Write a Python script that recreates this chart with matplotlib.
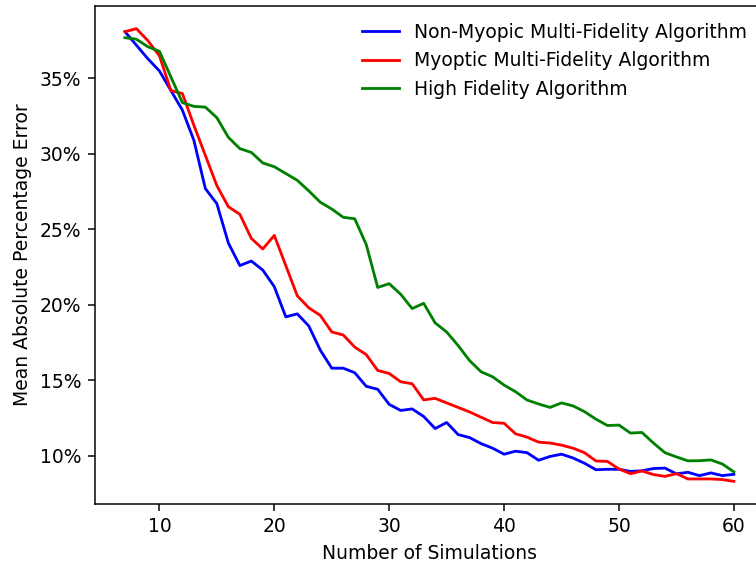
import matplotlib
matplotlib.use("Agg")
import matplotlib.pyplot as plt
from matplotlib.ticker import PercentFormatter

# number of simulations
sims = list(range(7, 61))

# mean absolute percentage error (in %)
non_myopic = [38.1, 37.2, 36.3, 35.5, 34.2, 32.9, 30.9, 27.7, 26.7, 24.1,
              22.6, 22.9, 22.3, 21.2, 19.2, 19.4, 18.6, 17.0, 15.8, 15.8,
              15.5, 14.6, 14.4, 13.4, 13.0, 13.1, 12.6, 11.8, 12.2, 11.4,
              11.2, 10.8, 10.5, 10.1, 10.3, 10.2, 9.7, 9.95, 10.1, 9.85,
              9.5, 9.07, 9.1, 9.1, 8.96, 9.0, 9.15, 9.18, 8.8, 8.9,
              8.68, 8.86, 8.68, 8.77]
myopic = [38.1, 38.3, 37.5, 36.5, 34.2, 34.0, 31.9, 29.9, 27.9, 26.5,
          26.0, 24.4, 23.7, 24.6, 22.6, 20.6, 19.8, 19.3, 18.2, 18.0,
          17.2, 16.7, 15.65, 15.45, 14.9, 14.77, 13.7, 13.8, 13.5, 13.2,
          12.9, 12.55, 12.2, 12.15, 11.45, 11.23, 10.9, 10.84, 10.7, 10.5,
          10.2, 9.65, 9.62, 9.12, 8.81, 8.99, 8.75, 8.63, 8.81, 8.46,
          8.46, 8.46, 8.42, 8.3]
high_fidelity = [37.7, 37.6, 37.1, 36.8, 35.1, 33.4, 33.15, 33.1, 32.4, 31.1,
                 30.35, 30.1, 29.4, 29.15, 28.7, 28.25, 27.55, 26.8, 26.35, 25.8,
                 25.7, 24.0, 21.15, 21.4, 20.7, 19.75, 20.1, 18.8, 18.2, 17.3,
                 16.3, 15.56, 15.23, 14.68, 14.24, 13.69, 13.43, 13.2, 13.5, 13.3,
                 12.92, 12.42, 12.0, 12.03, 11.5, 11.54, 10.84, 10.2, 9.92, 9.66,
                 9.67, 9.72, 9.45, 8.93]

dpi = 135
fig = plt.figure(figsize=(756 / dpi, 563 / dpi), dpi=dpi)
# the original is cut off on the right, so the axes run past the edge
ax = fig.add_axes([0.125, 0.1048, 0.886, 0.8845])

ax.plot(sims, non_myopic, color='blue', label='Non-Myopic Multi-Fidelity Algorithm')
ax.plot(sims, myopic, color='red', label='Myoptic Multi-Fidelity Algorithm')
ax.plot(sims, high_fidelity, color='green', label='High Fidelity Algorithm')

ax.yaxis.set_major_formatter(PercentFormatter(xmax=100, decimals=0))
ax.set_xlabel('Number of Simulations')
ax.set_ylabel('Mean Absolute Percentage Error')
ax.legend(loc='upper right', frameon=False)

fig.savefig('out.png', dpi=dpi)
